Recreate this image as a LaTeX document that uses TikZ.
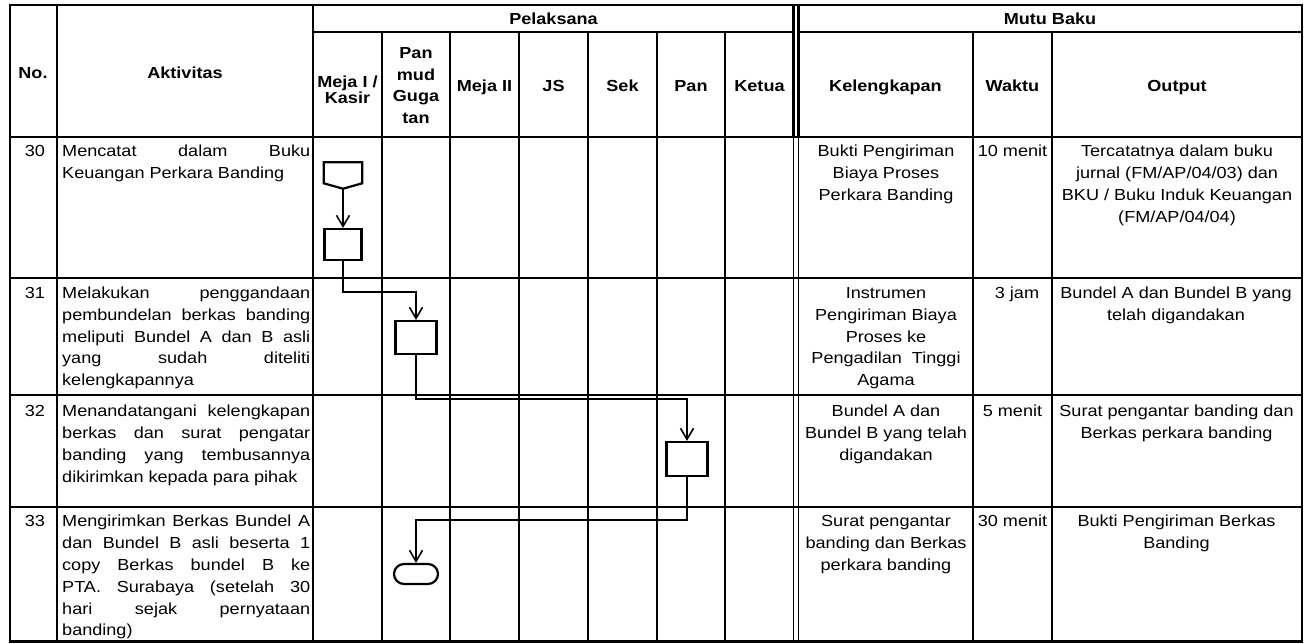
\documentclass[tikz,border=0pt]{standalone}
\usepackage{fontspec}
\setmainfont{Liberation Sans}[FakeStretch=1.13]
\usetikzlibrary{arrows.meta,calc}
\newcommand{\FL}{\rule{0pt}{13pt}}
\begin{document}
\begin{tikzpicture}[x=1pt,y=-1pt,
 thk/.style={line width=2.4pt},
 thn/.style={line width=1.2pt},
 hdr/.style={font=\fontsize{16}{21.7}\selectfont\bfseries, inner sep=0pt, anchor=base, align=center},
 hdrm/.style={font=\fontsize{16}{21.7}\selectfont\bfseries, inner sep=0pt, anchor=north, align=center},
 txt/.style={font=\fontsize{16}{21.8}\selectfont, inner sep=0pt, anchor=north, align=center},
 txtl/.style={font=\fontsize{16}{21.8}\selectfont, inner sep=0pt, anchor=north west, align=left},
 box/.style={draw, line width=2.2pt, inner sep=0pt},
 flow/.style={line width=1.6pt, -{Straight Barb[length=11pt,width=13pt]}},
]
\useasboundingbox (0,0) rectangle (1307,643);
\fill[white] (0,0) rectangle (1307,643);

% ---------- grid ----------
\draw[thk] (10,5) rectangle (1302,641.5);
\draw[thk] (313,32) -- (793.5,32);
\draw[thk] (798.5,32) -- (1302,32);
\draw[line width=2.8pt] (10,137) -- (1302,137);
\foreach \x in {57,313,793.5,798.5} \draw[thk] (\x,5) -- (\x,137);
\foreach \x in {382,450,519,588,657,725,973,1052} \draw[thk] (\x,32) -- (\x,137);
\draw[line width=2pt] (57,137) -- (57,641.5);
\foreach \x in {313,382,450,519,588,657,725,793.5,798.5,973,1052} \draw[thn] (\x,137) -- (\x,641.5);
\foreach \y in {278,395,507} \draw[thn] (10,\y) -- (1302,\y);

% ---------- header ----------
\node[hdr] (hno) at (33,78) {No.};
\node[hdr] (hakt) at (185,78) {Aktivitas};
\node[hdr] (hpel) at (553.5,24) {Pelaksana};
\node[hdr] (hmutu) at (1050,24) {Mutu Baku};
\node[hdrm, font=\fontsize{16}{16}\selectfont\bfseries] (hm1) at (347.5,74) {\FL Meja I /\\Kasir};
\node[hdrm] (hpm) at (416,45.3) {\FL Pan\\mud\\Guga\\tan};
\node[hdr] (hm2) at (484.5,91) {Meja II};
\node[hdr] (hjs) at (553.5,91) {JS};
\node[hdr] (hsek) at (622.5,91) {Sek};
\node[hdr] (hpan) at (691,91) {Pan};
\node[hdr] (hket) at (759.5,91) {Ketua};
\node[hdr] (hkel) at (885.5,91) {Kelengkapan};
\node[hdr] (hwak) at (1012.5,91) {Waktu};
\node[hdr] (hout) at (1177,91) {Output};

% ---------- row 30 ----------
\node[txt] (n30) at (35,143.5) {\FL 30};
\node[txtl] (a30) at (62,143.5) {\FL\makebox[248pt][s]{Mencatat dalam Buku}\\Keuangan Perkara Banding};
\node[txt] (k30) at (886,143.5) {\FL Bukti Pengiriman\\Biaya Proses\\Perkara Banding};
\node[txt] (w30) at (1012.5,143.5) {\FL 10 menit};
\node[txt] (o30) at (1177,143.5) {\FL Tercatatnya dalam buku\\jurnal (FM/AP/04/03) dan\\BKU / Buku Induk Keuangan\\(FM/AP/04/04)};

% ---------- row 31 ----------
\node[txt] (n31) at (35,285.3) {\FL 31};
\node[txtl] (a31) at (62,285.3) {\FL\makebox[248pt][s]{Melakukan penggandaan}\\\makebox[248pt][s]{pembundelan berkas banding}\\\makebox[248pt][s]{meliputi Bundel A dan B asli}\\\makebox[248pt][s]{yang sudah diteliti}\\kelengkapannya};
\node[txt] (k31) at (886,285.3) {\FL Instrumen\\Pengiriman Biaya\\Proses ke\\Pengadilan\ \ Tinggi\\Agama};
\node[txt] (w31) at (1017,285.3) {\FL 3 jam};
\node[txt] (o31) at (1176,285.3) {\FL Bundel A dan Bundel B yang\\telah digandakan};

% ---------- row 32 ----------
\node[txt] (n32) at (35,403.5) {\FL 32};
\node[txtl] (a32) at (62,403.5) {\FL\makebox[248pt][s]{Menandatangani kelengkapan}\\\makebox[248pt][s]{berkas dan surat pengatar}\\\makebox[248pt][s]{banding yang tembusannya}\\dikirimkan kepada para pihak};
\node[txt] (k32) at (886,403.5) {\FL Bundel A dan\\Bundel B yang telah\\digandakan};
\node[txt] (w32) at (1012.5,403.5) {\FL 5 menit};
\node[txt] (o32) at (1176.5,403.5) {\FL Surat pengantar banding dan\\Berkas perkara banding};

% ---------- row 33 ----------
\node[txt] (n33) at (35,513.7) {\FL 33};
\node[txtl] (a33) at (62,513.7) {\FL\makebox[248pt][s]{Mengirimkan Berkas Bundel A}\\\makebox[248pt][s]{dan Bundel B asli beserta 1}\\\makebox[248pt][s]{copy Berkas bundel B ke}\\\makebox[248pt][s]{PTA. Surabaya (setelah 30}\\\makebox[248pt][s]{hari sejak pernyataan}\\banding)};
\node[txt] (k33) at (886,513.7) {\FL Surat pengantar\\banding dan Berkas\\perkara banding};
\node[txt] (w33) at (1012.5,513.7) {\FL 30 menit};
\node[txt] (o33) at (1176.5,513.7) {\FL Bukti Pengiriman Berkas\\Banding};

% ---------- flow shapes ----------
\node[minimum width=38pt, minimum height=26pt, inner sep=0pt] (op) at (343,175.5) {};
\draw[line width=2.2pt, line join=miter] (op.north west) -- (op.north east) -- ($(op.north east)+(0,21)$) -- (op.south) -- ($(op.north west)+(0,21)$) -- cycle;
\node[box, minimum width=37pt, minimum height=31pt] (b1) at (343,244.5) {};
\node[box, minimum width=41pt, minimum height=33pt] (b2) at (416,337.5) {};
\node[box, minimum width=41pt, minimum height=34pt] (b3) at (687,459) {};
\node[box, minimum width=44pt, minimum height=20pt, rounded corners=10pt] (t1) at (416,574) {};

% ---------- connectors ----------
\draw[flow] (op.south) -- (b1.north);
\draw[flow] (b1.south) -- ++(0,31) -| (b2.north);
\draw[flow] (b2.south) -- ++(0,44) -| (b3.north);
\draw[flow] (b3.south) -- ++(0,43) -| (t1.north);
\end{tikzpicture}
\end{document}
